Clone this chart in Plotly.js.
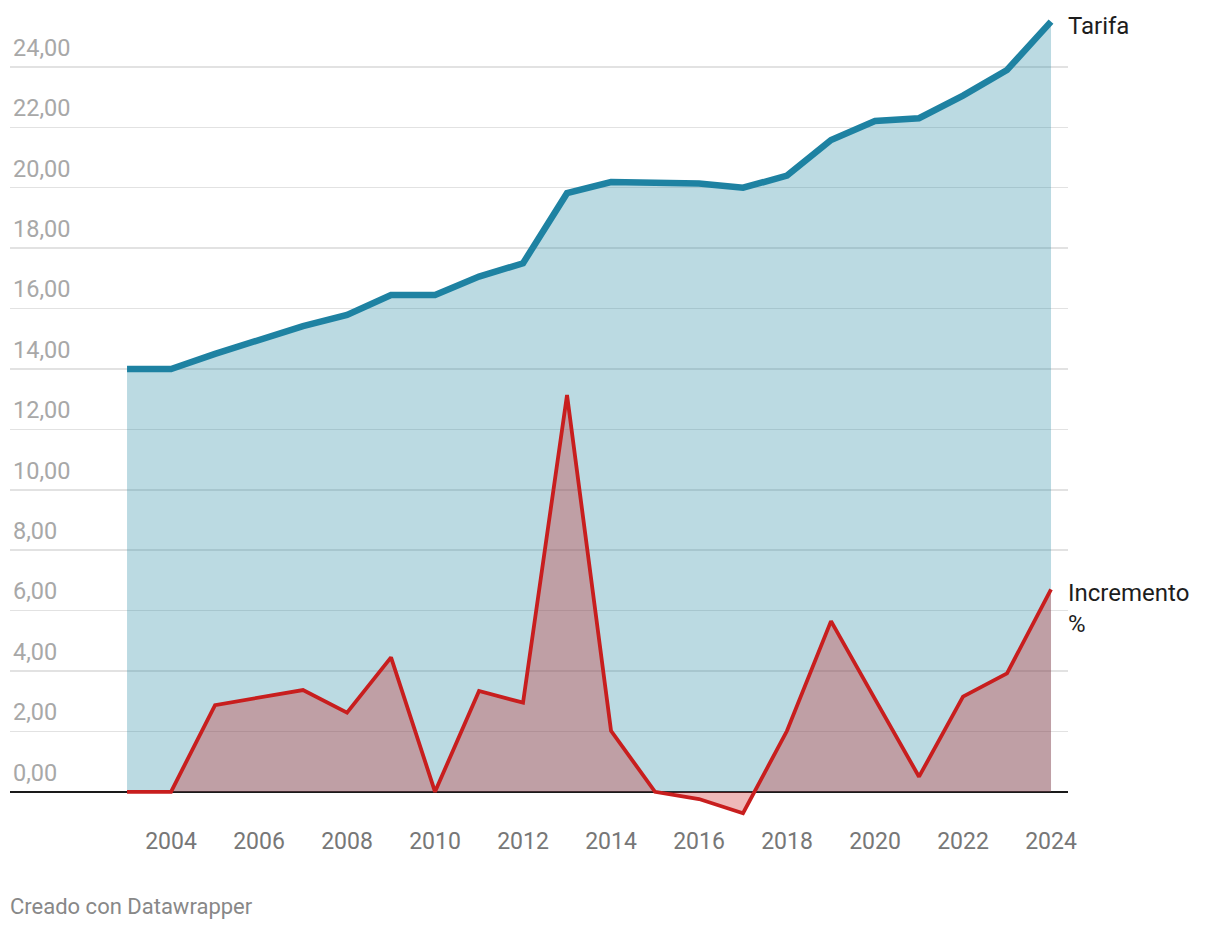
<!DOCTYPE html>
<html>
<head>
<meta charset="utf-8">
<script src="https://cdn.plot.ly/plotly-3.0.1.min.js"></script>
<style>
  html, body { margin: 0; padding: 0; background: #fff; }
  #chart { width: 1220px; height: 930px; }
</style>
</head>
<body>
<div id="chart"></div>
<script>
const years = [2003, 2004, 2005, 2006, 2007, 2008, 2009, 2010, 2011, 2012, 2013,
               2014, 2015, 2016, 2017, 2018, 2019, 2020, 2021, 2022, 2023, 2024];
const tarifa = [14.00, 14.00, 14.50, 14.94, 15.42, 15.79, 16.45, 16.45, 17.06, 17.50, 19.82,
                20.19, 20.19, 20.14, 20.00, 20.40, 21.58, 22.21, 22.30, 23.05, 23.90, 25.50];
const incremento = [0.00, 0.00, 2.87, 3.12, 3.37, 2.62, 4.45, 0.00, 3.34, 2.95, 13.14,
                    2.02, 0.00, -0.24, -0.71, 2.02, 5.65, 3.07, 0.50, 3.15, 3.92, 6.70];
const seriesNames = ['Tarifa', 'Incremento<br>%'];
const xTickVals = [2004, 2006, 2008, 2010, 2012, 2014, 2016, 2018, 2020, 2022, 2024];
const xTickText = ['2004', '2006', '2008', '2010', '2012', '2014', '2016', '2018', '2020', '2022', '2024'];
const yTickVals = [0, 2, 4, 6, 8, 10, 12, 14, 16, 18, 20, 22, 24];
const yTickText = ['0,00', '2,00', '4,00', '6,00', '8,00', '10,00', '12,00', '14,00', '16,00', '18,00', '20,00', '22,00', '24,00'];
const footer = 'Creado con Datawrapper';

const FONT = 'Roboto, "Noto Sans", Arial, sans-serif';

const traces = [
  {
    x: years, y: tarifa, type: 'scatter', mode: 'lines',
    name: 'Tarifa',
    line: { color: '#1e82a2', width: 6.5 },
    fill: 'tozeroy', fillcolor: 'rgba(31,131,160,0.30)',
    hoverinfo: 'skip'
  },
  {
    x: years, y: incremento, type: 'scatter', mode: 'lines',
    name: 'Incremento %',
    line: { color: '#c81e1e', width: 3.8 },
    fill: 'tozeroy', fillcolor: 'rgba(200,30,30,0.31)',
    hoverinfo: 'skip'
  }
];

const layout = {
  width: 1220, height: 930,
  margin: { l: 10, r: 152, t: 5, b: 108 },
  paper_bgcolor: '#ffffff', plot_bgcolor: '#ffffff',
  showlegend: false,
  font: { family: FONT, size: 22, color: '#222' },
  xaxis: {
    range: [2000.34, 2024.386],
    tickvals: xTickVals, ticktext: xTickText,
    showgrid: false, zeroline: false, showline: false,
    ticks: '', tickfont: { family: FONT, size: 23, color: '#777777' },
    ticklabelstandoff: 3,
    fixedrange: true
  },
  yaxis: {
    range: [-1.0, 26.05],
    tickvals: yTickVals, ticktext: yTickText,
    showgrid: true, gridcolor: '#e2e2e2', gridwidth: 1.5,
    zeroline: true, zerolinecolor: '#1a1a1a', zerolinewidth: 2,
    showline: false, ticks: '',
    ticklabelposition: 'inside top',
    ticklabelshift: -3,
    tickfont: { family: FONT, size: 23.5, color: '#a8a8a8' },
    fixedrange: true
  },
  annotations: [
    {
      xref: 'paper', x: 1, yref: 'y', y: tarifa[tarifa.length - 1],
      xanchor: 'left', yanchor: 'middle', yshift: -4, xshift: -2,
      text: seriesNames[0], showarrow: false, align: 'left',
      font: { family: FONT, size: 24, color: '#1d1d1d' }
    },
    {
      xref: 'paper', x: 1, yref: 'y', y: incremento[incremento.length - 1],
      xanchor: 'left', yanchor: 'middle', yshift: -19, xshift: -2,
      text: seriesNames[1], showarrow: false, align: 'left',
      font: { family: FONT, size: 24, color: '#1d1d1d' }
    },
    {
      xref: 'paper', x: 0, yref: 'paper', y: 0,
      xanchor: 'left', yanchor: 'middle', yshift: -84, xshift: -2,
      text: footer, showarrow: false, align: 'left',
      font: { family: FONT, size: 22, color: '#888888' }
    }
  ]
};

Plotly.newPlot('chart', traces, layout, { displayModeBar: false, staticPlot: true });
</script>
</body>
</html>
